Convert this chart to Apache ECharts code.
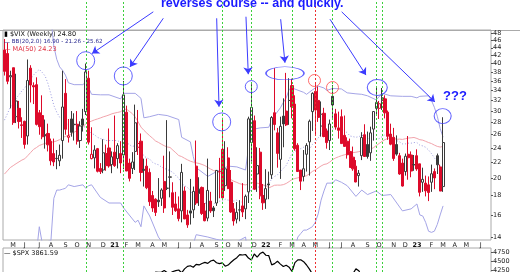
<!DOCTYPE html>
<html><head><meta charset="utf-8">
<script src="https://cdn.jsdelivr.net/npm/echarts@6/dist/echarts.min.js"></script>
<style>html,body{margin:0;padding:0;background:#fff}#c{width:520px;height:272px}</style>
</head><body><div id="c"></div>
<script>
// ---------------- DATA ----------------
const firstWeek = '2020-04-13';   // Monday of first plotted week
const weekCount = 168;            // weeks spanned by the x axis (incl. empty future weeks)
const prevClose0 = 41.67;         // close of week before first candle
// VIX weekly [open, high, low, close]
const vixOHLC = [
[43.4,46.4,37.2,38.15],[42.5,45.4,35.3,35.93],[36.9,38.3,30.5,37.19],[39.0,39.0,27.6,27.98],[29.0,37.6,27.9,31.89],
[30.5,31.9,27.0,28.16],[27.6,28.9,25.5,27.51],[28.2,28.3,23.9,24.52],[25.8,41.0,24.5,36.09],[38.9,39.6,31.6,35.12],
[35.0,35.7,31.3,34.73],[35.2,36.8,27.5,27.68],[29.7,30.2,26.0,27.29],[29.2,33.0,25.3,25.68],[26.0,28.5,23.9,25.84],
[26.2,27.8,23.5,24.46],[25.0,25.4,21.6,22.21],[23.2,25.4,21.5,22.05],[22.5,23.7,21.1,22.54],[22.2,24.5,21.5,22.96],
[25.1,38.3,22.5,30.75],[33.4,36.4,26.0,26.87],[25.6,28.6,24.8,25.83],[28.6,30.0,25.7,26.38],[27.7,29.6,25.1,27.63],
[27.7,30.0,24.5,25.00],[25.1,28.2,24.0,27.41],[28.6,30.4,26.5,27.55],[29.9,40.0,29.3,38.02],[36.6,38.3,24.5,24.86],
[22.5,27.2,22.4,23.10],[22.6,24.4,21.2,23.70],[23.9,24.0,20.7,20.84],[21.2,21.9,20.5,20.79],[21.0,25.3,20.6,23.31],
[23.2,24.5,20.9,21.57],[24.0,27.0,21.3,21.53],[21.7,23.5,20.6,22.75],[23.4,29.2,21.4,21.56],[22.5,24.7,21.2,24.34],
[23.2,25.0,20.6,21.91],[23.0,36.0,21.1,33.09],[29.8,31.0,20.9,20.87],[21.9,22.5,19.6,19.97],[21.2,23.4,20.5,22.05],
[23.5,31.2,21.0,27.95],[24.1,30.2,23.0,24.66],[25.0,26.2,19.6,20.69],[21.1,22.5,19.0,20.95],[21.5,22.5,18.7,18.86],
[20.7,21.2,16.9,17.33],[18.0,18.5,16.3,16.69],[17.6,17.7,15.9,16.25],[17.5,20.0,16.8,17.33],[17.7,18.8,16.9,18.61],
[19.6,22.9,16.2,16.69],[18.8,28.4,18.6,18.81],[20.1,23.5,17.8,20.15],[18.3,19.5,16.0,16.76],[17.1,18.4,16.3,16.42],
[16.6,17.9,15.4,15.65],[16.4,21.8,15.3,20.70],[18.5,19.0,15.6,15.62],[16.0,16.5,14.8,15.07],[16.4,19.9,15.1,16.18],
[16.5,19.0,15.7,18.45],[21.5,25.1,17.0,17.20],[18.7,20.1,16.9,18.24],[18.9,19.0,16.0,16.15],[16.4,17.2,15.4,15.45],
[15.7,22.5,15.4,18.56],[17.4,18.4,16.2,16.39],[16.7,16.9,15.8,16.41],[17.2,21.0,16.9,20.95],[20.8,22.6,17.7,20.81],
[23.8,28.8,17.5,17.75],[19.1,25.0,18.5,21.15],[22.6,24.1,18.7,18.77],[19.5,21.0,16.2,16.30],[16.6,17.2,15.0,15.43],
[15.6,17.3,15.2,16.26],[16.5,17.5,15.4,16.48],[16.9,19.4,15.8,16.29],[16.6,18.1,15.6,17.91],[18.4,29.0,17.2,28.62],
[24.8,35.3,22.1,30.67],[28.3,29.2,18.6,18.69],[20.5,24.1,18.4,21.57],[23.4,24.0,17.6,17.96],[18.0,19.3,16.5,17.22],
[17.6,21.1,16.6,18.76],[19.3,20.8,17.6,19.19],[20.4,29.1,19.9,28.85],[29.7,38.9,26.7,27.66],[26.3,27.1,21.3,23.22],
[22.4,29.0,19.9,27.36],[29.1,32.4,24.1,27.75],[30.0,37.8,27.4,27.59],[32.0,36.6,27.6,31.98],[35.0,36.5,28.7,30.75],
[31.3,33.0,23.6,23.87],[24.4,24.7,20.8,20.81],[21.0,21.0,18.6,19.63],[20.2,23.7,19.6,21.16],[23.1,24.7,20.8,24.37],
[24.9,28.5,20.3,28.21],[29.9,33.6,26.6,33.40],[33.8,35.3,25.9,30.19],[32.0,34.8,28.1,28.87],[27.4,31.8,25.7,29.43],
[29.6,30.6,25.6,25.72],[26.6,27.0,23.9,24.79],[25.1,28.5,23.7,27.75],[32.8,35.1,28.8,31.13],[29.5,30.4,26.8,27.23],
[27.1,29.9,25.4,26.70],[29.0,30.3,24.6,24.64],[25.9,29.2,24.2,24.23],[25.0,25.6,22.5,23.03],[23.5,25.4,21.3,21.33],
[22.7,24.2,20.9,21.15],[21.5,22.3,19.5,19.53],[20.3,21.0,19.0,20.60],[22.9,26.4,22.3,25.56],[26.0,27.7,23.8,22.79],
[24.5,26.5,22.5,22.79],[23.3,27.3,22.2,26.30],[26.9,30.0,25.1,29.92],[30.5,34.9,29.3,31.62],[30.5,31.9,28.6,31.36],
[32.5,34.5,30.2,32.02],[32.3,33.0,28.7,29.69],[29.8,30.1,25.2,25.75],[26.1,27.8,24.4,24.55],[25.6,27.1,22.2,22.52],
[24.5,25.9,22.9,23.12],[22.9,23.3,20.4,20.50],[21.9,22.5,19.0,19.06],[20.8,23.2,20.3,22.83],[23.1,25.8,19.8,22.62],
[23.0,23.5,20.1,20.87],[21.7,23.0,20.9,21.67],[22.9,23.8,20.9,21.13],[21.8,21.8,17.9,18.35],[19.5,21.3,18.4,19.85],
[19.4,20.3,17.9,18.51],[19.2,20.2,17.4,18.33],[19.5,21.7,18.4,20.53],[20.8,21.2,18.7,20.02],[22.9,23.2,20.5,21.67],
[21.4,21.7,18.5,18.49],[19.0,28.9,18.4,24.80]
];
// BB(20,2) middle band, one value per candle
const bbMiddle = [28.4,29.5,30.7,31.5,32.4,33.1,33.9,34.5,35.6,36.4,37.3,38.0,38.6,37.9,37.1,35.4,33.2,31.05,29.8,28.9,
28.5,28.1,27.5,27.4,27.1,26.9,26.9,27.2,27.3,26.8,26.2,26.0,25.6,25.4,25.3,25.1,25.1,25.1,25.1,25.1,
24.75,25.06,24.8,24.5,24.2,24.36,24.2,23.68,22.85,22.6,22.44,22.0,21.8,21.68,21.4,21.2,21.07,20.9,20.7,20.3,
19.99,19.37,19.1,18.9,18.57,18.09,17.72,17.6,17.3,17.2,17.1,17.1,17.1,17.3,17.4,17.4,17.6,17.5,17.5,17.4,
17.5,17.3,17.3,17.5,18.1,18.7,18.8,18.9,19.0,19.1,19.1,19.3,19.9,20.2,20.4,20.8,21.2,21.6,22.4,23.2,
23.5,23.8,23.9,24.1,23.9,23.8,24.5,24.9,25.5,26.1,26.5,26.7,26.7,26.9,27.1,27.0,26.9,26.7,26.3,25.8,
25.7,25.6,25.7,25.9,25.8,25.5,25.2,25.2,25.3,25.4,25.7,26.0,25.9,25.5,25.3,25.1,24.9,24.6,24.6,24.7,
24.7,24.8,24.8,24.4,24.3,24.1,23.7,23.2,22.6,22.1,21.5,21.26];
// BB upper / lower band readings [week index, value]
const bbUpper = [[15,57],[16,52.7],[17,44.4],[18,41.05],[19,39.2],[20,38.4],[21,37.3],[22,35.6],[24,35.2],[27,35.2],
[28,35.8],[29,34.5],[30,33.2],[33,33.1],[36,33.1],[40,32.3],[41,33.4],[45,33.4],[46,32.9],[47,32.4],[48,28.8],[50,29.0],
[53,29.4],[56,29.2],[60,28.5],[61,25.6],[64,24.9],[65,22.8],[66,21.3],[70,20.2],[73,20.8],[75,21.1],[77,21.5],[80,21.4],
[83,21.0],[84,24.0],[85,26.8],[88,27.1],[91,27.2],[92,28.5],[93,29.2],[95,30.6],[96,31.6],[97,32.5],[98,34.2],[99,34.5],
[103,33.6],[104,33.2],[106,34.1],[108,34.9],[110,34.5],[111,34.0],[113,34.4],[116,34.3],[118,33.5],[121,33.3],[123,33.2],
[125,32.9],[128,32.1],[130,33.4],[133,32.9],[137,32.8],[140,32.8],[142,32.5],[143,32.8],[146,32.9],[147,32.0],[148,30.7],
[149,29.1],[150,27.0],[151,25.62]];
const bbLower = [[10,11.0],[11,12.7],[12,14.9],[13,13.5],[16,13.7],[17,17.7],[18,18.6],[19,18.6],[20,18.7],[21,18.8],
[22,19.2],[24,19.0],[27,19.2],[28,18.8],[29,19.1],[30,19.2],[33,17.8],[36,17.2],[40,17.2],[41,16.7],[45,15.3],[46,15.5],
[47,14.9],[48,16.9],[50,15.9],[53,14.0],[56,13.0],[60,11.5],[61,13.2],[64,12.2],[65,13.4],[66,14.2],[70,14.0],[73,13.8],
[75,13.7],[80,13.6],[83,14.0],[84,12.2],[85,10.6],[88,10.9],[92,11.3],[96,10.8],[99,11.9],[100,13.1],[101,14.0],[102,14.3],
[103,14.6],[104,14.6],[106,14.9],[107,15.3],[108,16.1],[109,17.5],[110,18.5],[111,19.4],[113,19.4],[114,19.8],[116,19.5],
[118,19.1],[121,17.9],[123,18.6],[125,18.1],[128,18.5],[130,18.0],[133,18.1],[137,16.4],[140,16.6],[142,17.1],[143,16.0],
[144,15.9],[145,15.3],[146,14.5],[147,14.4],[148,14.5],[149,15.1],[150,16.0],[151,16.9]];
// MA(50), one value per candle
const ma50 = [20.49,20.89,21.31,21.56,21.82,22.06,22.30,22.48,22.90,23.34,23.79,24.05,24.36,24.52,24.67,24.79,24.84,24.90,25.05,25.24,
25.55,25.74,25.91,26.13,26.40,26.65,26.95,27.26,27.78,28.03,28.24,28.44,28.60,28.77,28.97,29.12,29.30,29.51,29.65,29.76,
29.89,30.28,30.35,29.95,29.55,28.95,28.13,27.23,26.71,26.26,25.84,25.45,25.04,24.82,24.56,24.33,24.15,24.07,23.68,23.31,
22.92,22.78,22.55,22.34,22.15,22.03,21.93,21.85,21.72,21.57,21.33,21.12,20.93,20.82,20.68,20.54,20.41,20.24,19.80,19.62,
19.48,19.33,19.24,19.19,19.29,19.47,19.42,19.39,19.32,19.18,19.12,18.84,19.00,19.15,19.17,19.16,19.22,19.36,19.58,19.82,
19.95,20.03,20.10,20.18,20.29,20.52,20.82,21.02,21.26,21.52,21.72,21.80,22.04,22.37,22.59,22.75,22.90,23.02,23.16,23.28,
23.33,23.39,23.47,23.57,23.61,23.71,23.81,24.03,24.34,24.66,24.97,25.24,25.43,25.56,25.44,25.29,25.32,25.27,25.37,25.48,
25.52,25.57,25.42,25.23,25.16,24.98,24.80,24.65,24.42,24.23,24.13,24.23];
// $SPX weekly close
const spxClose = [2875,2837,2831,2930,2864,2955,3044,3194,3041,3098,3009,3130,3185,3225,3216,3271,3351,3373,3397,3508,
3427,3341,3319,3298,3348,3477,3484,3465,3270,3510,3585,3558,3638,3699,3663,3709,3703,3756,
3825,3768,3841,3714,3887,3934,3907,3811,3842,3943,3913,3975,4020,4129,4185,4180,4181,4233,4174,4156,4204,4230,
4247,4166,4281,4352,4370,4327,4412,4395,4437,4468,4441,4509,4535,4459,4433,4455,4357,4391,4471,4545,4605,4697,
4683,4698,4595,4538,4712,4620,4725,4766,
4677,4663,4398,4432,4501,4419,4349,4385,4329,4204,4463,4543,4546,4488,4393,4272,4132,4123,4024,3901,
4158,4109,3901,3675,3912,3825,3899,3863,3962,4130,4145,4280,4228,4058,3924,4067,3873,3693,3586,3640,
3583,3753,3901,3771,3993,3965,4026,4072,3934,3852,3845,3840,
3895,3999,3973,4071,4136,4090,4079,3970,4046,3862];
const vixTicks = [14,16,18,20,22,24,26,28,30,32,34,36,38,40,42,44,46,48];
const spxTicks = [4250,4500,4750];
const monthLetters = ['J','F','M','A','M','J','J','A','S','O','N','D'];
// annotation anchors (week index, VIX value)
const greenLineWeeks = [28,41,75,85,99,113,128,130];
const redLineWeeks = [107];
const blueCircles = [[27.97,40.7],[40.91,37.1],[74.79,28.1],[84.97,34.8],[96.57,37.7],[128.35,34.6],[150.86,29.1]];
const redCircles = [[106.73,36.1],[112.93,34.6]];
const arrows = [[51.24,54.7,30.14,42.5],[54.68,52.6,43.22,39.2],[73.06,52.6,73.86,30.8],[83.15,53.1,83.94,37.5],
[95.09,52.3,96.57,40.2],[112.06,52.3,124.46,37.3],[116.09,54.7,148.21,31.7]];
const priceTags = [[25.62,'25.62'],[24.23,'24.23'],[21.26,'21.26'],[16.90,'16.90'],[24.80,'24.80']];

// ---------------- STYLE / LAYOUT ----------------
const blueCircleSizes = [[18,18],[18,18],[18,18],[12,12],[38,13],[20,16],[17,15]];
const tagColors = ['#3333cc','#e03040','#3333cc','#3333cc','#000'];
const RED = '#dd0a2a', DARK = '#3a3a3a', BLUE = '#3b3bff';
const G_LEFT = 3, G_RIGHT = 29, G_TOP = 30, G_H = 210;
const Y_MIN = 13.75, Y_MAX = 49;
const SPX_TOP = 248, SPX_H = 24.5, SPX_MAX = 4887, SPX_PX = 0.0344;
const SPX_MIN = SPX_MAX - SPX_H / SPX_PX;
const lnSpan = Math.log(Y_MAX / Y_MIN);
const OV_MIN = Y_MIN * Math.exp(-lnSpan * (272 - G_TOP - G_H) / G_H);
const OV_MAX = Y_MAX * Math.exp(lnSpan * G_TOP / G_H);

const categories = [];
const t0 = Date.parse(firstWeek + 'T00:00:00Z');
for (let i = 0; i < weekCount; i++) categories.push(new Date(t0 + i * 7 * 864e5).toISOString().slice(0, 10));
const isMonthStart = i => i > 0 && categories[i].slice(5, 7) !== categories[i - 1].slice(5, 7);

const candleData = vixOHLC.map((r, i) => {
  const [o, h, l, c] = r;
  const prev = i ? vixOHLC[i - 1][3] : prevClose0;
  const edge = c < prev ? RED : DARK;
  const fill = c > o ? '#ffffff' : edge;
  return { value: [o, c, l, h], itemStyle: { color: fill, color0: fill, borderColor: edge, borderColor0: edge } };
});
const pairData = arr => arr.map(p => [categories[p[0]], p[1]]);

const smallFont = 'DejaVu Sans';
const chart = echarts.init(document.getElementById('c'));
chart.setOption({
  animation: false,
  backgroundColor: '#fff',
  graphic: [
    { type: 'line', shape: { x1: 0, y1: G_TOP + 0.5, x2: 520, y2: G_TOP + 0.5 }, style: { stroke: '#aaa', lineWidth: 1 }, silent: true, z: -1 }
  ],
  title: [
    { text: 'reverses course -- and quickly.', left: 161, top: -3, padding: 0,
      textStyle: { fontSize: 12.5, fontWeight: 'bold', color: '#1a1aff', fontFamily: 'Liberation Sans' } },
    { text: '???', left: 443, top: 90, padding: 0,
      textStyle: { fontSize: 13, fontWeight: 'bold', color: '#1a1aff', fontFamily: 'Liberation Sans' } },
    { text: '{k|▮} $VIX (Weekly) 24.80', left: 4, top: 31, padding: 0,
      textStyle: { fontSize: 6.5, fontWeight: 'normal', color: '#111', fontFamily: smallFont, rich: { k: { fontSize: 7, color: '#000' } } } },
    { text: '{d|—} BB(20,2.0) 16.90 - 21.26 - 25.62', left: 4, top: 39, padding: 0,
      textStyle: { fontSize: 5.6, fontWeight: 'normal', color: '#2a2a90', fontFamily: smallFont, rich: { d: { color: '#2a2a90', fontSize: 6 } } } },
    { text: '{d|—} MA(50) 24.23', left: 4, top: 46, padding: 0,
      textStyle: { fontSize: 6.5, fontWeight: 'normal', color: '#e03040', fontFamily: smallFont, rich: { d: { color: '#e03040', fontSize: 6.5 } } } },
    { text: '{d|—} $SPX 3861.59', left: 4, top: 250, padding: 0,
      textStyle: { fontSize: 6.5, fontWeight: 'normal', color: '#111', fontFamily: smallFont, rich: { d: { color: '#000', fontSize: 6.5 } } } }
  ],
  grid: [
    { left: G_LEFT, right: G_RIGHT, top: G_TOP, height: G_H, show: true, borderColor: '#aaa', borderWidth: 1, backgroundColor: 'transparent', outerBoundsMode: 'none' },
    { left: G_LEFT, right: G_RIGHT, top: SPX_TOP, height: SPX_H, show: true, borderColor: '#aaa', borderWidth: 1, backgroundColor: 'transparent', outerBoundsMode: 'none' },
    { left: G_LEFT, right: G_RIGHT, top: 0, height: 272, show: false, outerBoundsMode: 'none' }
  ],
  xAxis: [
    { type: 'category', gridIndex: 0, data: categories, boundaryGap: true,
      axisLine: { show: false }, axisTick: { show: false }, splitLine: { show: false },
      axisLabel: { interval: (i) => isMonthStart(i), fontSize: 6.5, color: '#222', margin: 2, fontFamily: smallFont,
        formatter: v => { const m = +v.slice(5, 7); return m === 1 ? '{y|' + v.slice(2, 4) + '}' : monthLetters[m - 1]; },
        rich: { y: { fontWeight: 'bold', fontSize: 6.5, color: '#111', fontFamily: smallFont } } } },
    { type: 'category', gridIndex: 1, data: categories, boundaryGap: true, show: false },
    { type: 'value', gridIndex: 2, min: -0.5, max: weekCount - 0.5, show: false }
  ],
  yAxis: [
    { type: 'log', gridIndex: 0, position: 'right', min: Y_MIN, max: Y_MAX,
      axisLine: { show: false }, splitLine: { show: false },
      axisTick: { show: true, length: 2, customValues: vixTicks, lineStyle: { color: '#555' } },
      axisLabel: { customValues: vixTicks, fontSize: 6.5, margin: 2, color: '#222', fontFamily: smallFont, formatter: v => String(Math.round(v)) } },
    { type: 'value', gridIndex: 1, position: 'right', min: SPX_MIN, max: SPX_MAX,
      axisLine: { show: false }, splitLine: { show: false },
      axisTick: { show: true, length: 2, customValues: spxTicks, lineStyle: { color: '#555' } },
      axisLabel: { customValues: spxTicks, fontSize: 6.5, margin: 2, color: '#222', fontFamily: smallFont, hideOverlap: false,
        showMinLabel: true, showMaxLabel: true, formatter: v => String(Math.round(v)) } },
    { type: 'log', gridIndex: 2, min: OV_MIN, max: OV_MAX, show: false }
  ],
  series: [
    { type: 'line', xAxisIndex: 0, yAxisIndex: 0, data: pairData(bbUpper), symbol: 'none', silent: true,
      lineStyle: { color: '#a4a4e6', width: 1 }, z: 1 },
    { type: 'line', xAxisIndex: 0, yAxisIndex: 0, data: pairData(bbLower), symbol: 'none', silent: true,
      lineStyle: { color: '#a4a4e6', width: 1 }, z: 1 },
    { type: 'line', xAxisIndex: 0, yAxisIndex: 0, data: bbMiddle, symbol: 'none', silent: true,
      lineStyle: { color: '#9a9ae0', width: 1, type: [1, 2] }, z: 1 },
    { type: 'line', xAxisIndex: 0, yAxisIndex: 0, data: ma50, symbol: 'none', silent: true,
      lineStyle: { color: '#f2a4ac', width: 1 }, z: 1 },
    { type: 'candlestick', xAxisIndex: 0, yAxisIndex: 0, data: candleData, barWidth: '88%', z: 3,
      itemStyle: { borderWidth: 1 } },
    { type: 'line', xAxisIndex: 1, yAxisIndex: 1, data: spxClose, symbol: 'none', silent: true, clip: true,
      lineStyle: { color: '#000', width: 1.2 } },
    { type: 'scatter', xAxisIndex: 2, yAxisIndex: 2, silent: true, z: 5,
      data: blueCircles.map((p, i) => ({ value: p, symbolSize: blueCircleSizes[i] })),
      symbol: 'circle', itemStyle: { color: 'rgba(0,0,0,0)', borderColor: BLUE, borderWidth: 1 },
      markLine: { silent: true, symbol: 'none', label: { show: false }, animation: false,
        data: greenLineWeeks.map(w => ({ xAxis: w, lineStyle: { color: '#3ccf3c', type: [2, 2], width: 1 } }))
          .concat(redLineWeeks.map(w => ({ xAxis: w, lineStyle: { color: '#ee3030', type: [2, 2], width: 1 } }))) } },
    { type: 'scatter', xAxisIndex: 2, yAxisIndex: 2, silent: true, z: 6,
      data: redCircles, symbol: 'circle', symbolSize: 12,
      itemStyle: { color: 'rgba(0,0,0,0)', borderColor: '#ff4a4a', borderWidth: 1 },
      markLine: { silent: true, symbol: ['none', 'arrow'], symbolSize: 7, label: { show: false }, animation: false,
        itemStyle: { color: BLUE }, lineStyle: { color: BLUE, width: 1, type: 'solid' },
        data: arrows.map(a => [{ coord: [a[0], a[1]] }, { coord: [a[2], a[3]] }]) } },
    { type: 'scatter', xAxisIndex: 2, yAxisIndex: 2, silent: true, z: 7, data: [],
      markLine: { silent: true, symbol: 'none', animation: false, lineStyle: { opacity: 0 },
        data: priceTags.map((t, i) => ({ yAxis: t[0], label: { show: true, position: 'end', distance: 0, formatter: t[1],
          fontSize: 6, fontWeight: i === 4 ? 'bold' : 'normal', color: tagColors[i], fontFamily: smallFont,
          backgroundColor: '#fff', borderColor: tagColors[i], borderWidth: 1, padding: [0, 1, 0, 1], lineHeight: 6 } })) } }
  ]
});
</script></body></html>
